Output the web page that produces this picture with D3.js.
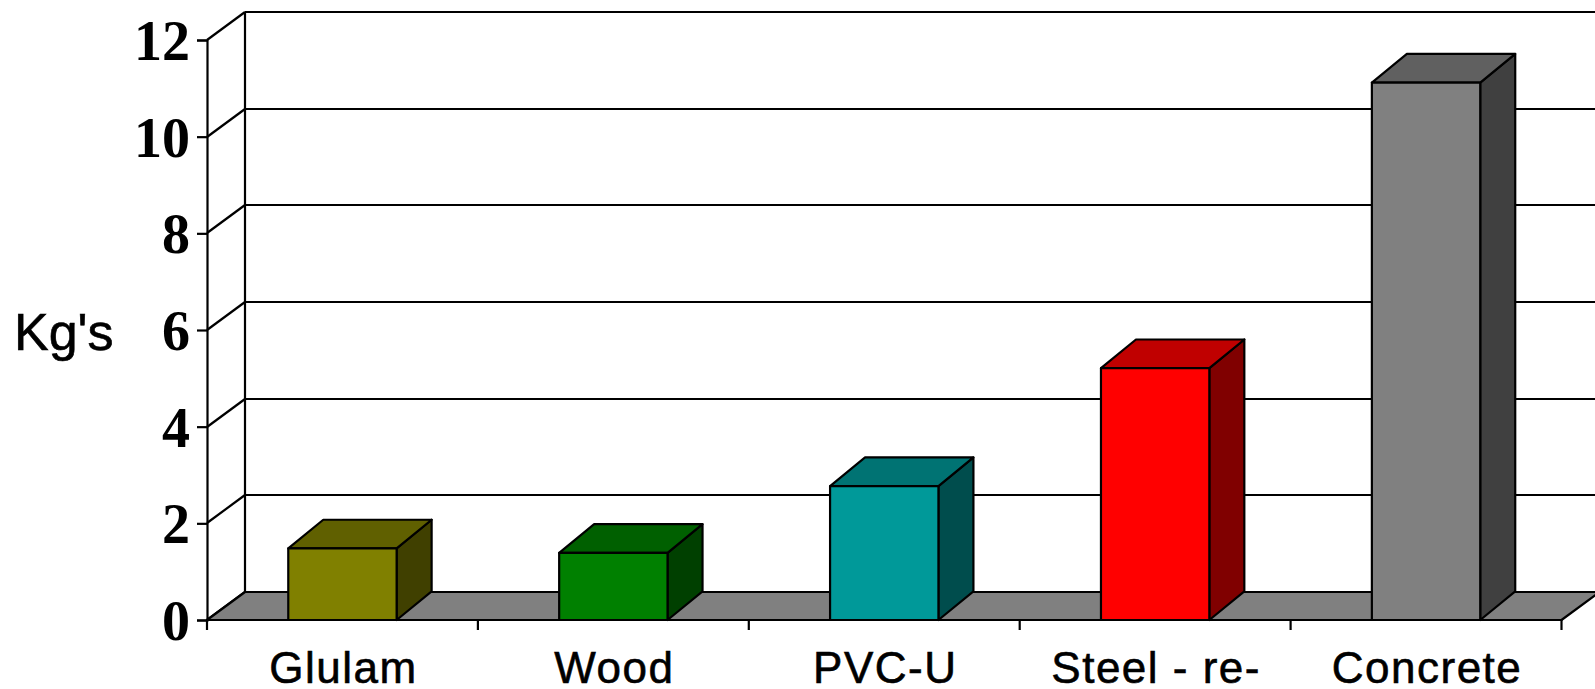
<!DOCTYPE html>
<html>
<head>
<meta charset="utf-8">
<script src="https://cdn.jsdelivr.net/npm/d3@7"></script>
<style>
  body { margin: 0; background: white; }
  .tick-label { font-family: "Liberation Serif", "Times New Roman", serif; font-weight: bold; font-size: 56px; }
  .cat-label { font-family: "Liberation Sans", Arial, sans-serif; font-size: 44px; letter-spacing: 1.5px; stroke: black; stroke-width: 0.6px; }
  .axis-title { font-family: "Liberation Sans", Arial, sans-serif; font-size: 52px; stroke: black; stroke-width: 0.6px; }
</style>
</head>
<body>
<svg width="1595" height="689"></svg>
<script>
const svg = d3.select('svg');

// data
const categories = ['Glulam', 'Wood', 'PVC-U', 'Steel - re-', 'Concrete'];
const values = [1.48, 1.39, 2.77, 5.21, 11.12];
const yTicks = [0, 2, 4, 6, 8, 10, 12];
const frontColors = ['#808000', '#008000', '#009999', '#ff0000', '#808080'];
const topColors = ['#606000', '#006000', '#007373', '#c00000', '#606060'];
const sideColors = ['#404000', '#004000', '#004d4d', '#800000', '#404040'];

const data = categories.map((c, i) => ({
    category: c, value: values[i],
    front: frontColors[i], top: topColors[i], side: sideColors[i]
}));

const left = 207, right = 1561.5;
const wall = { dx: 38, dy: 28 };   // depth of the back wall
const bar = { dx: 35, dy: 28.7 };  // depth of each bar

const yScale = d3.scaleLinear().domain([0, 12]).range([620, 40]);
const xScale = d3.scaleBand()
      .domain(categories)
      .range([left, right])
      .paddingInner(0.6)
      .paddingOuter(0.3);
const step = xScale.step();
const ry = v => Math.round(yScale(v)); // crisp horizontals

const g = svg.append('g');

// back wall: gridlines + edges
const back = g.append('g').attr('stroke', 'black').attr('stroke-width', 2.2);
back.selectAll('line.grid').data(yTicks.filter(t => t > 0))
    .enter().append('line')
    .attr('x1', left + wall.dx).attr('x2', 1700)
    .attr('y1', d => ry(d) - wall.dy).attr('y2', d => ry(d) - wall.dy);
back.append('line')
    .attr('x1', left + wall.dx).attr('x2', left + wall.dx)
    .attr('y1', ry(12) - wall.dy).attr('y2', ry(0) - wall.dy);
// side wall diagonals
back.selectAll('line.diag').data(yTicks)
    .enter().append('line')
    .attr('x1', left).attr('y1', d => ry(d))
    .attr('x2', left + wall.dx).attr('y2', d => ry(d) - wall.dy);

// floor
const y0 = ry(0);
g.append('path')
    .attr('d', `M${left},${y0}L${right},${y0}L${right + wall.dx},${y0 - wall.dy}L${left + wall.dx},${y0 - wall.dy}Z`)
    .attr('fill', '#808080')
    .attr('stroke', 'black')
    .attr('stroke-width', 2.2)
    .attr('stroke-linejoin', 'round');

// bars
const bars = g.selectAll('g.bar').data(data).enter().append('g')
      .attr('stroke', 'black').attr('stroke-width', 2.2).attr('stroke-linejoin', 'round');
bars.append('path') // side
    .attr('fill', d => d.side)
    .attr('d', d => {
        const x1 = xScale(d.category) + xScale.bandwidth();
        const yt = yScale(d.value);
        return `M${x1},${y0}L${x1},${yt}L${x1 + bar.dx},${yt - bar.dy}L${x1 + bar.dx},${y0 - bar.dy}Z`;
    });
bars.append('path') // top
    .attr('fill', d => d.top)
    .attr('d', d => {
        const x0 = xScale(d.category), x1 = x0 + xScale.bandwidth();
        const yt = yScale(d.value);
        return `M${x0},${yt}L${x1},${yt}L${x1 + bar.dx},${yt - bar.dy}L${x0 + bar.dx},${yt - bar.dy}Z`;
    });
bars.append('rect') // front
    .attr('fill', d => d.front)
    .attr('x', d => xScale(d.category))
    .attr('y', d => yScale(d.value))
    .attr('width', xScale.bandwidth())
    .attr('height', d => y0 - yScale(d.value));

// front y axis
const yAxis = d3.axisLeft(yScale).tickValues(yTicks).tickSize(10).tickPadding(7);
const yAxisGroup = g.append('g')
      .attr('transform', `translate(${left}, 0)`)
      .call(yAxis);
yAxisGroup.selectAll('line, path').attr('stroke', 'black').attr('stroke-width', 2.2);
yAxisGroup.selectAll('text')
    .attr('class', 'tick-label')
    .attr('fill', 'black')
    .attr('dy', '0.35em')
    .attr('font-family', null).attr('font-size', null);

// x axis: tick marks at category boundaries, labels at centres
const boundaries = categories.map(c => xScale(c) - step * 0.3).concat([right]);
g.append('g').selectAll('line').data(boundaries).enter().append('line')
    .attr('x1', d => d).attr('x2', d => d)
    .attr('y1', y0).attr('y2', y0 + 10)
    .attr('stroke', 'black').attr('stroke-width', 2.2);
g.append('g').selectAll('text').data(categories).enter().append('text')
    .attr('class', 'cat-label')
    .attr('text-anchor', 'middle')
    .attr('x', d => xScale(d) + xScale.bandwidth() / 2 + 1)
    .attr('y', 683)
    .text(d => d);

// axis title
svg.append('text')
    .attr('class', 'axis-title')
    .attr('x', 14)
    .attr('y', 350)
    .text("Kg's");
</script>
</body>
</html>
